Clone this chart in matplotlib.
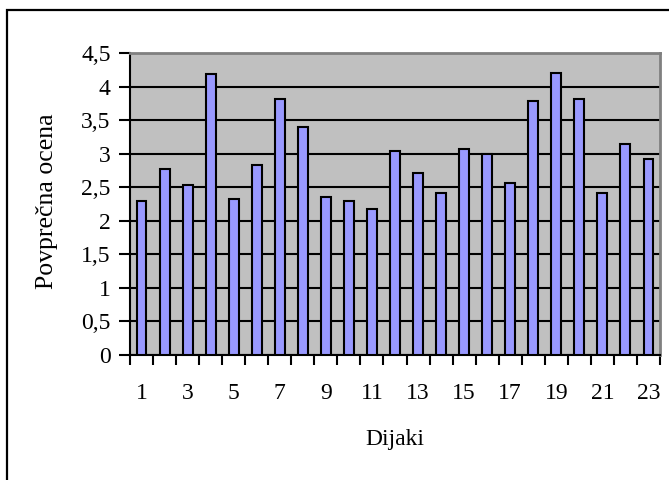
import matplotlib as mpl
mpl.use('Agg')
import matplotlib.pyplot as plt
import numpy as np

# average grade per student
dijaki = list(range(1, 24))
ocene = [2.29, 2.77, 2.53, 4.18, 2.32, 2.83, 3.81, 3.40, 2.36, 2.29, 2.17, 3.04,
         2.71, 2.41, 3.07, 3.00, 2.56, 3.78, 4.20, 3.81, 2.41, 3.15, 2.92]
y_ticks = [0, 0.5, 1, 1.5, 2, 2.5, 3, 3.5, 4, 4.5]
x_labels = [str(d) for d in dijaki if d % 2 == 1]

plt.rcParams['font.family'] = ['Liberation Serif', 'DejaVu Serif']
plt.rcParams['font.size'] = 17

fig = plt.figure(figsize=(6.69, 4.8), dpi=100, facecolor='white')
ax = fig.add_axes([130/669, 1-355/480, 530/669, 302/480])
ax.set_facecolor('#C0C0C0')

ax.bar(dijaki, ocene, width=0.43, color='#9999FF', edgecolor='black', linewidth=1.5, zorder=3)

ax.set_xlim(0.5, 23.5)
ax.set_ylim(0, 4.5)
ax.set_yticks(y_ticks)
ax.set_yticklabels([f"{v:g}".replace('.', ',') for v in y_ticks])
ax.yaxis.grid(True, color='black', linewidth=1.5, zorder=1)
ax.set_axisbelow(True)

ax.set_xticks([d for d in dijaki if d % 2 == 1])
ax.set_xticklabels(x_labels)
ax.set_xticks(np.arange(0.5, 24, 1), minor=True)
ax.tick_params(axis='x', which='major', length=0, pad=20)
ax.tick_params(axis='x', which='minor', length=7, width=1.5, direction='out')
ax.tick_params(axis='y', length=8, width=1.5, direction='out', pad=6)

for s in ['top', 'right']:
    ax.spines[s].set_color('#808080')
    ax.spines[s].set_linewidth(2)
for s in ['left', 'bottom']:
    ax.spines[s].set_color('black')
    ax.spines[s].set_linewidth(1.5)

fig.text(395/669, 1-440/480, 'Dijaki', ha='center', va='center', fontsize=17)
fig.text(47/669, 1-201/480, 'Povprečna ocena', ha='center', va='center', rotation=90, fontsize=18.5)

# outer chart frame (right and bottom edges fall outside the image)
frame = plt.Rectangle((7/669, -0.2), 1.3, 1-10/480+0.2, transform=fig.transFigure,
                      fill=False, edgecolor='black', linewidth=1.6)
fig.add_artist(frame)

fig.savefig('out.png', dpi=100)
